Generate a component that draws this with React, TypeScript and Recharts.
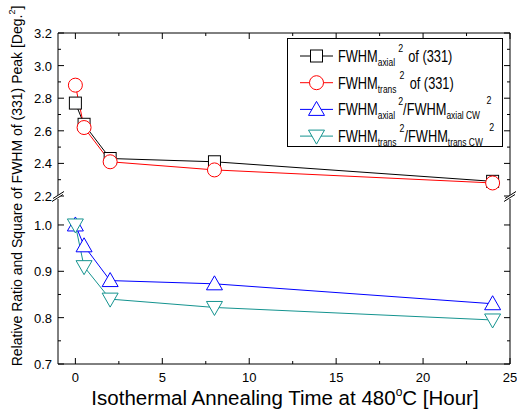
import type { FC } from "react";
import { Legend, Line, LineChart, XAxis, YAxis } from "recharts";

const hours = [0, 0.5, 2, 8, 24];
const fwhmAxialSq = [2.77, 2.64, 2.43, 2.41, 2.29];
const fwhmTransSq = [2.88, 2.62, 2.41, 2.36, 2.28];
const axialRatio = [1.0, 0.955, 0.88, 0.873, 0.83];
const transRatio = [1.0, 0.91, 0.84, 0.822, 0.795];

const xTicks = [0, 2.5, 5, 7.5, 10, 12.5, 15, 17.5, 20, 22.5, 25];
const upperMajor = [2.2, 2.4, 2.6, 2.8, 3.0, 3.2];
const upperMinor = [2.3, 2.5, 2.7, 2.9, 3.1];
const lowerMajor = [0.7, 0.8, 0.9, 1.0];
const lowerMinor = [0.75, 0.85, 0.95];

const data = hours.map((h, i) => ({
	hour: h,
	axialSq: fwhmAxialSq[i],
	transSq: fwhmTransSq[i],
	axialRatio: axialRatio[i],
	transRatio: transRatio[i],
}));

const FONT = "'Liberation Sans', Arial, sans-serif";
const TEAL = "#14938f";

const W = 517;
const H = 413;
const PLOT_L = 58;
const PLOT_R = 510;
const UP_TOP = 33;
const UP_BOT = 196;
const LO_TOP = 199;
const LO_BOT = 364;

const isMajorX = (v: number) => Math.abs(v % 5) < 1e-6;
const inList = (list: number[], v: number) =>
	list.some((m) => Math.abs(m - v) < 1e-6);

const BottomTick = (p: any) => {
	const v = p.payload.value;
	const major = isMajorX(v);
	return (
		<g>
			<line x1={p.x} x2={p.x} y1={p.y} y2={p.y - (major ? 6 : 3)} stroke="#000" />
			{major && (
				<text x={p.x} y={p.y + 18} textAnchor="middle" fontSize={13} fontFamily={FONT} fill="#000">
					{v}
				</text>
			)}
		</g>
	);
};

const TopTick = (p: any) => {
	const major = isMajorX(p.payload.value);
	return <line x1={p.x} x2={p.x} y1={p.y} y2={p.y + (major ? 6 : 3)} stroke="#000" />;
};

const makeLeftTick = (majors: number[]) => (p: any) => {
	const v = p.payload.value;
	const major = inList(majors, v);
	return (
		<g>
			<line x1={p.x} x2={p.x + (major ? 6 : 3)} y1={p.y} y2={p.y} stroke="#000" />
			{major && (
				<text x={p.x - 6} y={p.y + 5} textAnchor="end" fontSize={13} fontFamily={FONT} fill="#000">
					{v.toFixed(1)}
				</text>
			)}
		</g>
	);
};

const makeRightTick = (majors: number[]) => (p: any) => {
	const major = inList(majors, p.payload.value);
	return <line x1={p.x} x2={p.x - (major ? 6 : 3)} y1={p.y} y2={p.y} stroke="#000" />;
};

type Shape = "square" | "circle" | "up" | "down";

const Marker: FC<{ shape: Shape; cx: number; cy: number; color: string }> = ({ shape, cx, cy, color }) => {
	if (shape === "square")
		return <rect x={cx - 6} y={cy - 6} width={12} height={12} fill="#fff" stroke={color} />;
	if (shape === "circle") return <circle cx={cx} cy={cy} r={7} fill="#fff" stroke={color} />;
	if (shape === "up")
		return (
			<polygon
				points={`${cx},${cy - 8} ${cx - 8},${cy + 6} ${cx + 8},${cy + 6}`}
				fill="#fff"
				stroke={color}
			/>
		);
	return (
		<polygon
			points={`${cx},${cy + 8} ${cx - 8},${cy - 6} ${cx + 8},${cy - 6}`}
			fill="#fff"
			stroke={color}
		/>
	);
};

const makeDot = (shape: Shape, color: string) => (p: any) => (
	<Marker key={`${shape}-${p.index}`} shape={shape} cx={p.cx} cy={p.cy} color={color} />
);

const legendItems: { shape: Shape; color: string; main: string; sub: string; tail?: string; sub2?: string }[] = [
	{ shape: "square", color: "#000", main: "FWHM", sub: "axial", tail: " of (331)" },
	{ shape: "circle", color: "#ff0000", main: "FWHM", sub: "trans", tail: " of (331)" },
	{ shape: "up", color: "#0000ff", main: "FWHM", sub: "axial", sub2: "axial CW" },
	{ shape: "down", color: TEAL, main: "FWHM", sub: "trans", sub2: "trans CW" },
];

const LegendBox = () => (
	<svg width={216} height={109}>
		<rect x={0.5} y={0.5} width={215} height={108} fill="#fff" stroke="#000" />
		{legendItems.map((it, i) => {
			const y = 18 + i * 26.7;
			return (
				<g key={i}>
					<line x1={13} x2={46} y1={y} y2={y} stroke={it.color} />
					<Marker shape={it.shape} cx={29.5} cy={y} color={it.color} />
					<g transform={`translate(51,${y + 6}) scale(0.8,1)`}>
						<text x={0} y={0} fontFamily={FONT} fontSize={16} fill="#000">
							{it.main}
							<tspan fontSize={10.5} dy={4}>{it.sub}</tspan>
							<tspan fontSize={11} dx={4} dy={-14}>2</tspan>
							{it.tail ? (
								<tspan fontSize={16} dx={2} dy={10}>{it.tail}</tspan>
							) : (
								<>
									<tspan fontSize={16} dy={10}>/FWHM</tspan>
									<tspan fontSize={10.5} dy={4}>{it.sub2}</tspan>
									<tspan fontSize={11} dx={8} dy={-15}>2</tspan>
								</>
							)}
						</text>
					</g>
				</g>
			);
		})}
	</svg>
);

const BreakMark: FC<{ x: number; y: number }> = ({ x, y }) => (
	<g>
		<polygon points={`${x - 6},${y + 4} ${x + 6},${y - 3} ${x + 6},${y - 6} ${x - 6},${y + 1}`} fill="#fff" />
		<line x1={x - 6} y1={y + 4} x2={x + 5} y2={y - 3} stroke="#000" />
		<line x1={x - 5} y1={y + 1} x2={x + 6} y2={y - 6} stroke="#000" />
	</g>
);

const axisCommon = {
	interval: 0 as const,
	allowDataOverflow: true,
	tickSize: 0,
	tickMargin: 0,
	tickLine: false,
	axisLine: { stroke: "#000" },
};

const App: FC = () => {
	return (
		<div style={{ position: "fixed", left: 0, top: 0, width: W, height: H, background: "#fff" }}>
			<div style={{ position: "absolute", left: 0, top: 0 }}>
				<LineChart
					width={W}
					height={H}
					data={data}
					margin={{ top: LO_TOP, right: W - PLOT_R - 1, left: PLOT_L - 1, bottom: H - LO_BOT - 1 }}
				>
					<XAxis
						{...axisCommon}
						dataKey="hour"
						type="number"
						domain={[-1, 25]}
						ticks={xTicks}
						height={1}
						tick={BottomTick}
					/>
					<YAxis
						{...axisCommon}
						yAxisId="l"
						type="number"
						domain={[0.7, 1.056]}
						ticks={[...lowerMajor, ...lowerMinor]}
						width={1}
						tick={makeLeftTick(lowerMajor)}
					/>
					<YAxis
						{...axisCommon}
						yAxisId="r"
						orientation="right"
						type="number"
						domain={[0.7, 1.056]}
						ticks={[...lowerMajor, ...lowerMinor]}
						width={1}
						tick={makeRightTick(lowerMajor)}
					/>
					<Line
						yAxisId="l"
						type="linear"
						dataKey="axialRatio"
						stroke="#0000ff"
						strokeWidth={1}
						dot={makeDot("up", "#0000ff")}
						isAnimationActive={false}
					/>
					<Line
						yAxisId="l"
						type="linear"
						dataKey="transRatio"
						stroke={TEAL}
						strokeWidth={1}
						dot={makeDot("down", TEAL)}
						isAnimationActive={false}
					/>
				</LineChart>
			</div>
			<div style={{ position: "absolute", left: 0, top: 0 }}>
				<LineChart
					width={W}
					height={H}
					data={data}
					margin={{ top: UP_TOP - 1, right: W - PLOT_R - 1, left: PLOT_L - 1, bottom: H - UP_BOT }}
				>
					<XAxis
						{...axisCommon}
						dataKey="hour"
						orientation="top"
						type="number"
						domain={[-1, 25]}
						ticks={xTicks}
						height={1}
						tick={TopTick}
					/>
					<YAxis
						{...axisCommon}
						yAxisId="l"
						type="number"
						domain={[2.2, 3.2]}
						ticks={[...upperMajor, ...upperMinor]}
						width={1}
						tick={makeLeftTick(upperMajor)}
					/>
					<YAxis
						{...axisCommon}
						yAxisId="r"
						orientation="right"
						type="number"
						domain={[2.2, 3.2]}
						ticks={[...upperMajor, ...upperMinor]}
						width={1}
						tick={makeRightTick(upperMajor)}
					/>
					<Legend
						layout="vertical"
						align="center"
						verticalAlign="middle"
						content={LegendBox}
						wrapperStyle={{ left: 287, top: 38, width: 216, height: 109 }}
					/>
					<Line
						yAxisId="l"
						type="linear"
						dataKey="axialSq"
						stroke="#000"
						strokeWidth={1}
						dot={makeDot("square", "#000")}
						isAnimationActive={false}
					/>
					<Line
						yAxisId="l"
						type="linear"
						dataKey="transSq"
						stroke="#ff0000"
						strokeWidth={1}
						dot={makeDot("circle", "#ff0000")}
						isAnimationActive={false}
					/>
				</LineChart>
			</div>
			<svg
				width={W}
				height={H}
				style={{ position: "absolute", left: 0, top: 0, pointerEvents: "none" }}
			>
				<BreakMark x={PLOT_L} y={197.5} />
				<BreakMark x={PLOT_R} y={197.5} />
				<text x={285} y={405} textAnchor="middle" fontFamily={FONT} fontSize={20.5} fill="#000">
					Isothermal Annealing Time at 480
					<tspan fontSize={12} dy={-9}>o</tspan>
					<tspan dy={9}>C [Hour]</tspan>
				</text>
				<text
					transform="translate(22,186) rotate(-90)"
					textAnchor="middle"
					fontFamily={FONT}
					fontSize={14}
					fill="#000"
				>
					Relative Ratio and Square of FWHM of (331) Peak [Deg.
					<tspan fontSize={9} dy={-7}>2</tspan>
					<tspan dy={7}>]</tspan>
				</text>
			</svg>
		</div>
	);
};

export default App;
